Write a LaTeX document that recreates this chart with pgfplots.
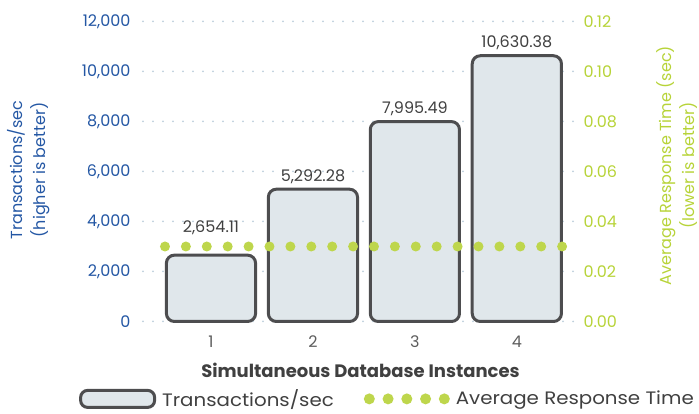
\documentclass[border=0pt]{standalone}
\usepackage{pgfplots}
\pgfplotsset{compat=1.18}
\usepackage{pgfplotstable}
\usepackage{fontspec}
\setmainfont{Poppins}
\newfontfamily\wide{Poppins}[FakeStretch=1.1]
\definecolor{blueaxis}{RGB}{36,87,164}
\definecolor{greenaxis}{RGB}{183,211,56}
\definecolor{dotgreen}{RGB}{190,214,76}
\definecolor{barfill}{RGB}{224,231,235}
\definecolor{baredge}{RGB}{77,77,79}
\definecolor{textgray}{RGB}{64,64,64}
\definecolor{gridcol}{RGB}{190,208,220}

\pgfplotstableread{
x y lab sh
1 2654.11 2,654.11 27
2 5292.28 5,292.28 12.5
3 7995.49 7,995.49 12.5
4 10630.38 10,630.38 12.5
}\tps

\pgfplotstableread{
x rt
1 0.03
2 0.03
3 0.03
4 0.03
}\resp

\pgfplotsset{
  barlegend/.style={legend image code/.code={\draw[fill=barfill, draw=baredge, line width=3pt, rounded corners=7pt] (0pt,-8.5pt) rectangle (74pt,8.5pt);}},
  dotlegend/.style={legend image code/.code={\draw[shorten <=0pt, shorten >=0pt, line width=11pt, dash pattern=on 0pt off 18.75pt] (0pt,0pt) -- (75pt,0pt);}},
}

\newcommand{\fs}{\fontsize{16}{20}\selectfont}
\newcommand{\fl}{\fontsize{16}{23.5}\selectfont}

\begin{document}
\begin{tikzpicture}
\path[use as bounding box] (-143pt,-92.5pt) rectangle (556pt,321.5pt);
\begin{axis}[
  at={(0pt,0pt)}, anchor=south west,
  scale only axis, width=435pt, height=300pt,
  xmin=0.333, xmax=4.6, ymin=0, ymax=12000,
  axis line style={draw=none},
  tick style={draw=none},
  major tick length=0pt,
  xtick={1,2,3,4},
  ytick={0,2000,4000,6000,8000,10000,12000},
  scaled y ticks=false,
  /pgf/number format/assume math mode=true,
  yticklabel={\pgfmathprintnumber[fixed, precision=0, 1000 sep={,}]{\tick}},
  yticklabel style={font=\fs, text=blueaxis, xshift=-9pt},
  xticklabel style={font=\fs, text=textgray!85, yshift=-11pt},
  ymajorgrids,
  grid style={draw=gridcol, line width=2pt, line cap=round, dash pattern=on 0pt off 10pt},
  xlabel={\bfseries Simultaneous Database Instances},
  xlabel style={font=\fontsize{18}{22}\selectfont, text=textgray, at={(axis description cs:0.5,-0.163)}, anchor=center},
  ylabel={Transactions/sec\\(higher is better)},
  every axis y label/.style={at={(axis description cs:-0.263,0.505)}, anchor=center, rotate=90, align=center, font=\fl, text=blueaxis},
  ybar, bar width=0.875, bar shift=0pt,
  clip=false,
]
\addplot[fill=barfill, draw=baredge, line width=3pt, rounded corners=8pt,
  point meta=explicit symbolic,
  nodes near coords,
  visualization depends on={\thisrow{sh} \as \myshift},
  every node near coord/.append style={anchor=center, yshift=\myshift pt, font=\fs, text=textgray, rotate=0}
] table[x=x, y=y, meta=lab] {\tps};
\end{axis}

\begin{axis}[
  at={(0pt,0pt)}, anchor=south west,
  scale only axis, width=435pt, height=300pt,
  xmin=0.333, xmax=4.6, ymin=0, ymax=0.12,
  axis x line=none,
  axis y line*=right,
  axis line style={draw=none},
  tick style={draw=none},
  major tick length=0pt,
  ytick={0,0.02,0.04,0.06,0.08,0.1,0.12},
  scaled y ticks=false,
  /pgf/number format/assume math mode=true,
  yticklabel={\pgfmathprintnumber[fixed, fixed zerofill, precision=2]{\tick}},
  yticklabel style={font=\fs, text=greenaxis, xshift=2pt},
  ylabel={Average Response Time (sec)\\(lower is better)},
  every axis y label/.style={at={(axis description cs:1.2275,0.52)}, anchor=center, rotate=90, align=center, font=\fl, text=greenaxis},
  clip=false,
  legend columns=2,
  legend style={at={(axis description cs:0.562,-0.258)}, anchor=center, draw=none, fill=none, font=\wide\fontsize{18}{22}\selectfont, text=textgray,
    /tikz/every odd column/.append style={column sep=4pt},
    /tikz/every even column/.append style={column sep=28pt}},
  legend cell align=left,
]
\addlegendimage{barlegend}
\addlegendentry{Transactions/sec}
\addplot[dotlegend, draw=dotgreen, line width=10pt, line cap=round, dash pattern=on 0pt off 20.9pt,
  shorten <=-46pt, shorten >=-46pt, mark=none] table[x=x, y=rt] {\resp};
\addlegendentry{Average Response Time}
\end{axis}
\end{tikzpicture}
\end{document}
